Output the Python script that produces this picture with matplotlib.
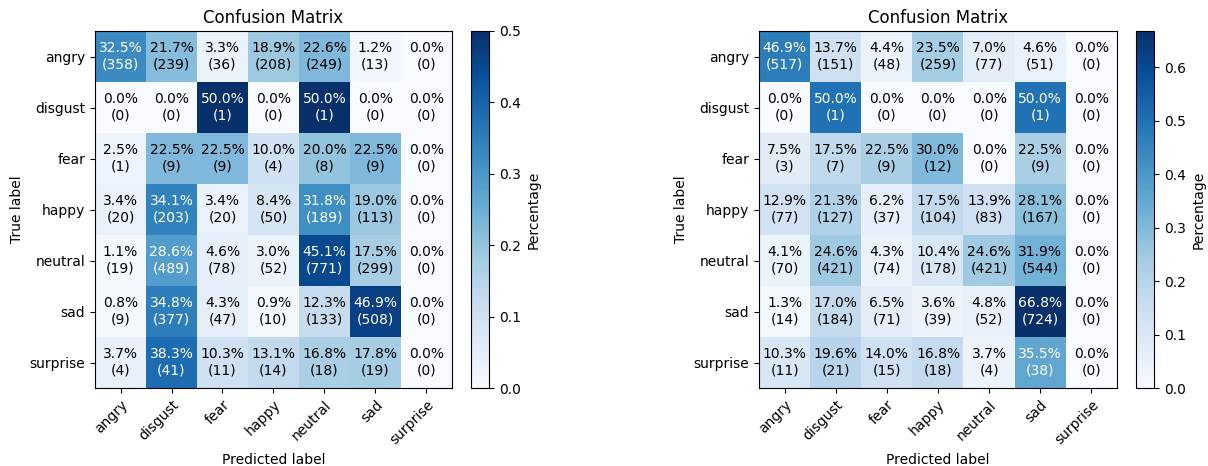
import numpy as np
import matplotlib.pyplot as plt

emotions = ["angry", "disgust", "fear", "happy", "neutral", "sad", "surprise"]

# raw prediction counts, rows = true label, cols = predicted label
counts_a = [
    [358, 239, 36, 208, 249, 13, 0],
    [0, 0, 1, 0, 1, 0, 0],
    [1, 9, 9, 4, 8, 9, 0],
    [20, 203, 20, 50, 189, 113, 0],
    [19, 489, 78, 52, 771, 299, 0],
    [9, 377, 47, 10, 133, 508, 0],
    [4, 41, 11, 14, 18, 19, 0],
]

counts_b = [
    [517, 151, 48, 259, 77, 51, 0],
    [0, 1, 0, 0, 0, 1, 0],
    [3, 7, 9, 12, 0, 9, 0],
    [77, 127, 37, 104, 83, 167, 0],
    [70, 421, 74, 178, 421, 544, 0],
    [14, 184, 71, 39, 52, 724, 0],
    [11, 21, 15, 18, 4, 38, 0],
]


def plot_confusion(ax, cax, counts, labels):
    cm = np.array(counts)
    cm_norm = cm / cm.sum(axis=1, keepdims=True)
    im = ax.imshow(cm_norm, interpolation="nearest", cmap="Blues", aspect="auto",
                   vmin=0, vmax=cm_norm.max())
    cb = plt.colorbar(im, cax=cax)
    cb.set_label("Percentage")
    ax.set_title("Confusion Matrix")
    ticks = np.arange(len(labels))
    ax.set_xticks(ticks)
    ax.set_yticks(ticks)
    ax.set_xticklabels(labels, rotation=45, ha="right", rotation_mode="anchor")
    ax.set_yticklabels(labels)
    ax.set_xlabel("Predicted label")
    ax.set_ylabel("True label")
    thresh = cm_norm.max() / 2.0
    for i in range(cm.shape[0]):
        for j in range(cm.shape[1]):
            ax.text(j, i, "{:.1%}\n({})".format(cm_norm[i, j], cm[i, j]),
                    ha="center", va="center",
                    color="white" if cm_norm[i, j] > thresh else "black")


fig = plt.figure(figsize=(12.08, 4.66), dpi=100)
ax1 = fig.add_axes([95 / 1208, 78 / 466, 357 / 1208, 357 / 466])
cax1 = fig.add_axes([471 / 1208, 78 / 466, 18 / 1208, 357 / 466])
ax2 = fig.add_axes([759 / 1208, 78 / 466, 358 / 1208, 357 / 466])
cax2 = fig.add_axes([1136 / 1208, 78 / 466, 18 / 1208, 357 / 466])

plot_confusion(ax1, cax1, counts_a, emotions)
plot_confusion(ax2, cax2, counts_b, emotions)

plt.savefig("out.png", dpi=100)
plt.close()
